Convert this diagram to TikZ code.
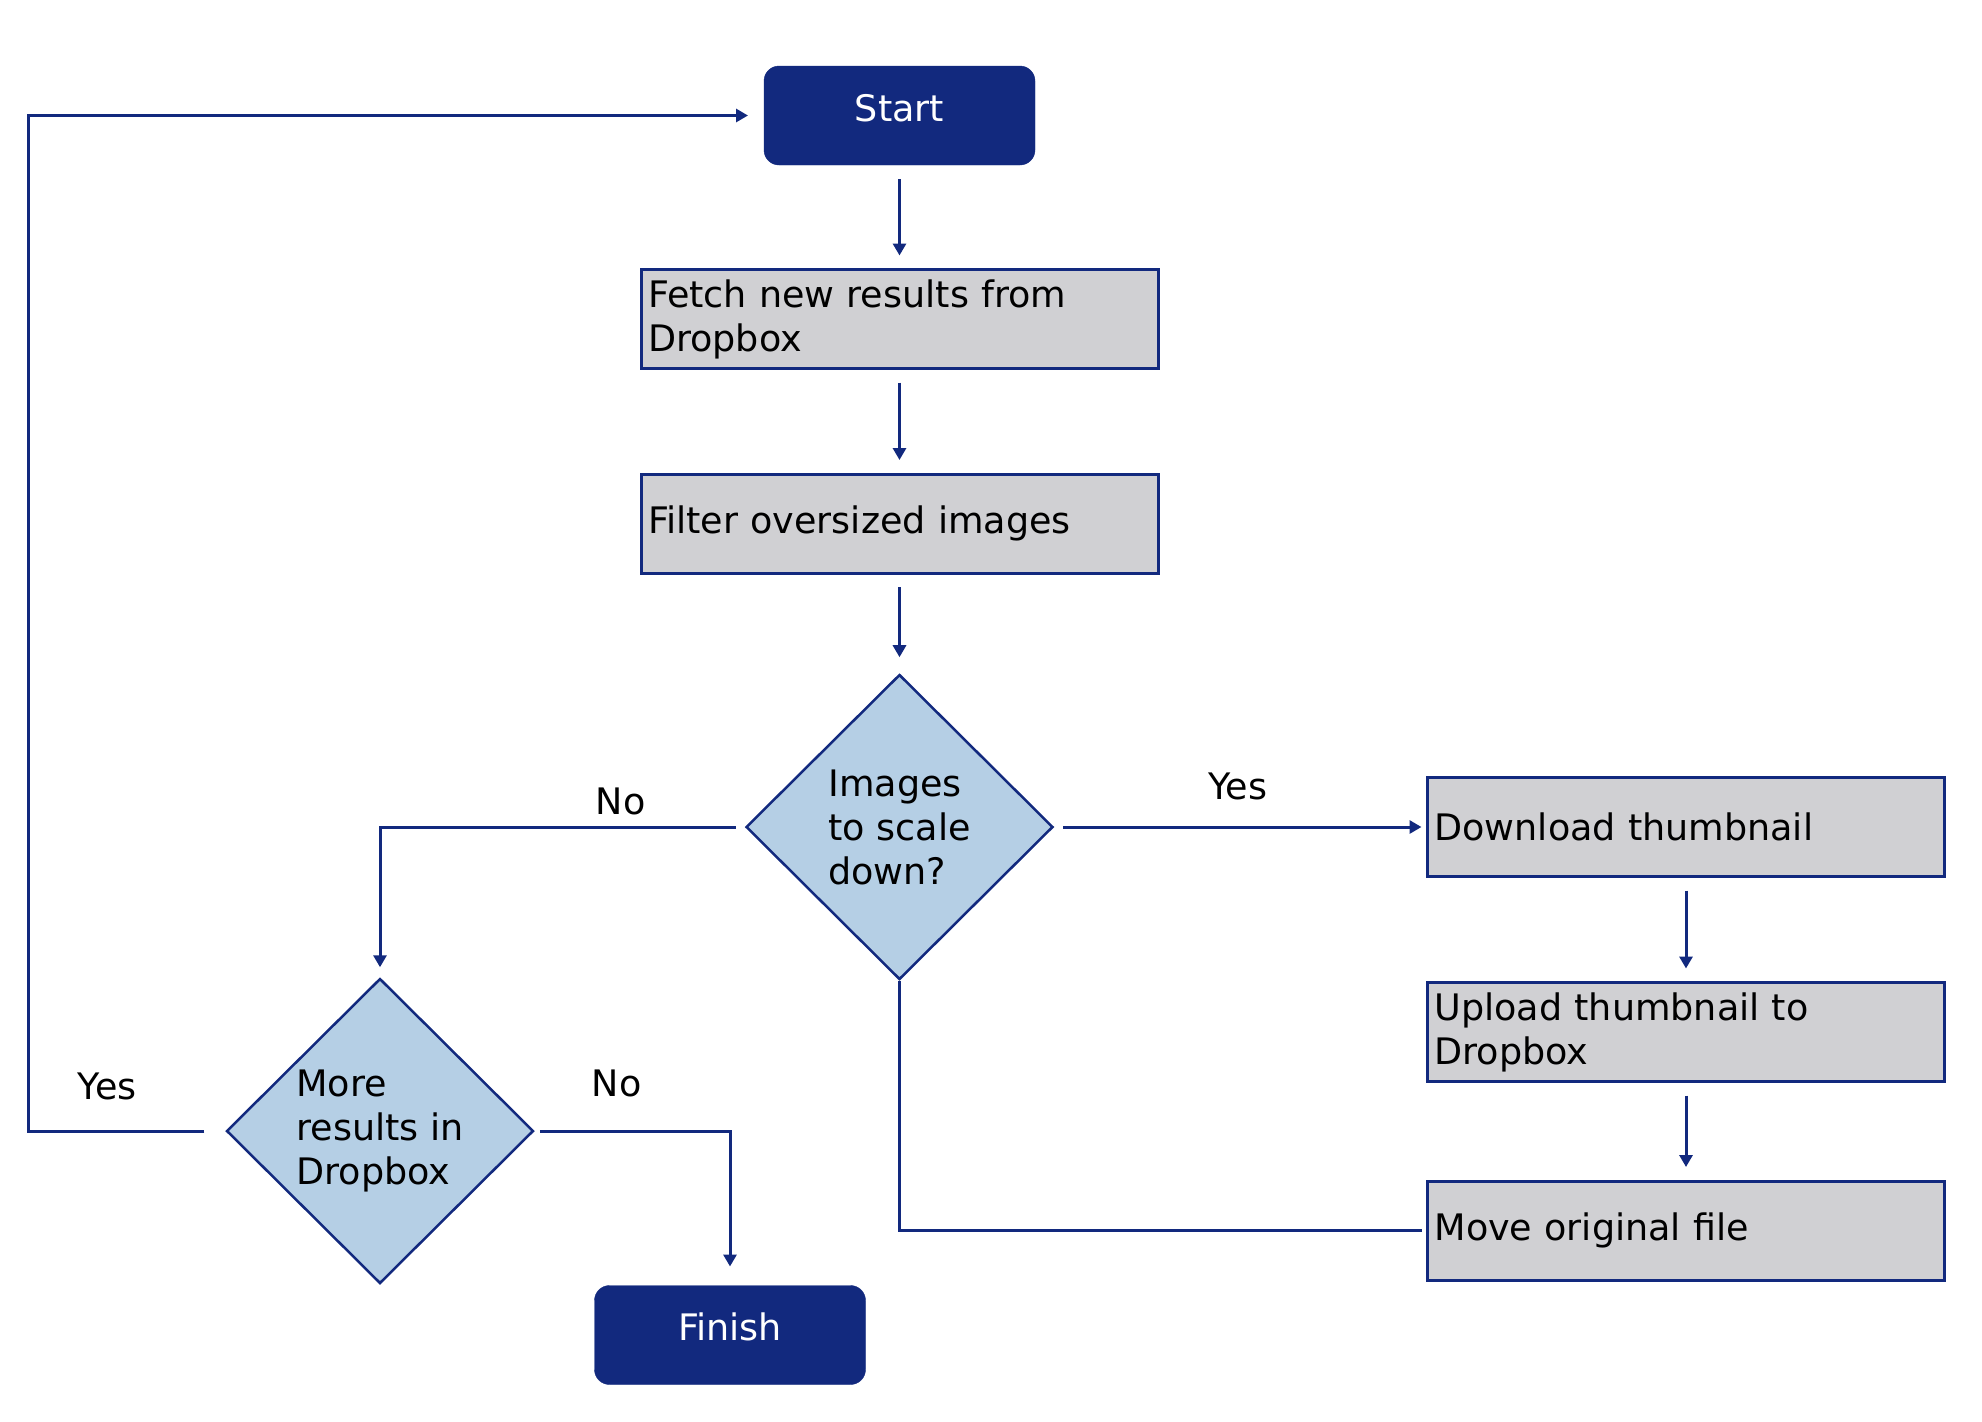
\documentclass[tikz,border=0pt]{standalone}
\usepackage{fontspec}
\setmainfont{DejaVu Sans}
\usetikzlibrary{arrows.meta,shapes.geometric,positioning}
\definecolor{FlowNavy}{HTML}{12297E}
\definecolor{FlowGray}{HTML}{D0D0D3}
\definecolor{FlowBlue}{HTML}{B5CFE5}

\begin{document}
\begin{tikzpicture}[x=1pt, y=-1pt,
    every node/.style={font=\fontsize{36.5}{44}\selectfont},
    terminal/.style={draw=FlowNavy, fill=FlowNavy, rounded corners=15pt, text=white,
                     minimum width=271pt, minimum height=99pt, text depth=16pt,
                     outer xsep=6pt, outer ysep=14pt},
    process/.style={draw=FlowNavy, fill=FlowGray, line width=3pt, minimum width=517pt,
                    minimum height=99pt, text width=503pt, inner xsep=7pt, align=left,
                    outer xsep=6pt, outer ysep=14pt},
    decision/.style={shape=diamond, draw=FlowNavy, fill=FlowBlue, line width=2.5pt,
                     inner sep=0pt, minimum width=307pt, minimum height=305pt, align=left},
    arrow/.style={-{Triangle[length=12pt,width=13pt]}, FlowNavy, line width=3pt},
    link/.style={FlowNavy, line width=3pt},
    lbl/.style={inner sep=0pt, text=black},
  ]
    \useasboundingbox (0,0) rectangle (1982,1422);

    \node[terminal] (start)    at (899.5,115.5) {Start};
    \node[process]  (fetch)    at (899.5,319)   {Fetch new results from\\Dropbox};
    \node[process]  (filter)   at (899.5,523.5) {Filter oversized images};
    \node[decision] (scale)    at (899.5,827)   {Images\\to scale\\down?};
    \node[process]  (download) at (1686,827)    {Download thumbnail};
    \node[process]  (upload)   at (1686,1032)   {Upload thumbnail to\\Dropbox};
    \node[process]  (move)     at (1686,1230.5) {Move original file};
    \node[decision] (more)     at (380,1131)    {More\\results in\\Dropbox};
    \node[terminal] (finish)   at (730,1335)    {Finish};

    \draw[arrow] (start) -- (fetch);
    \draw[arrow] (fetch) -- (filter);
    \draw[arrow, shorten >=16pt] (filter) -- (scale);
    \draw[arrow, shorten <=9pt] (scale) -- node[lbl, above=25pt]{Yes} (download);
    \draw[arrow, shorten <=9pt, shorten >=10pt] (scale.west) -| node[lbl, pos=0.17, above=10pt]{No} (more.north);
    \draw[arrow] (download) -- (upload);
    \draw[arrow] (upload) -- (move);
    \draw[link] (scale.south) |- (move.west);
    \draw[arrow, shorten <=5pt, shorten >=5pt] (more.east) -| node[lbl, pos=0.21, above=32pt]{No} (finish.north);
    \draw[arrow, shorten <=21pt, shorten >=10pt] (more.west) -- ++(-197,0) node[lbl, pos=0.6, above=29pt]{Yes} |- (start.west);
\end{tikzpicture}
\end{document}
